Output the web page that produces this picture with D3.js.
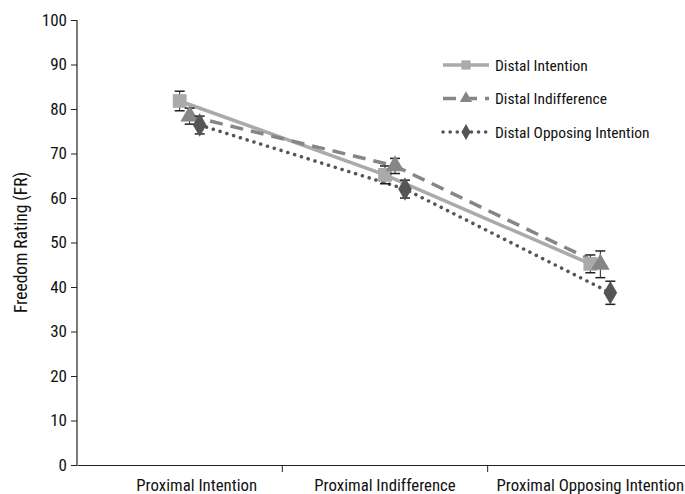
<!DOCTYPE html>
<html>
<head>
<meta charset="utf-8">
<script src="https://cdn.jsdelivr.net/npm/d3@7"></script>
<style>
  body { margin: 0; background: #fff; }
  text { font-family: "Liberation Sans Narrow", "Arial Narrow", "Roboto Condensed", "Liberation Sans", sans-serif; fill: #111; }
</style>
</head>
<body>
<div id="wrapper"></div>
<script>
// data
const categories = ["Proximal Intention", "Proximal Indifference", "Proximal Opposing Intention"]
const seriesNames = ["Distal Intention", "Distal Indifference", "Distal Opposing Intention"]
const intentionMeans = [81.8, 65.2, 45.2]
const intentionErr = [2.2, 2.0, 2.0]
const indifferenceMeans = [78.4, 67.2, 45.1]
const indifferenceErr = [1.8, 1.7, 3.0]
const opposingMeans = [76.4, 62.0, 38.7]
const opposingErr = [2.0, 2.0, 2.6]
const yTicks = [0, 10, 20, 30, 40, 50, 60, 70, 80, 90, 100]

function drawChart() {
  const dimensions = {
    width: 685,
    height: 494,
    margin: { top: 20, right: -8, bottom: 29, left: 77 },
  }
  dimensions.boundedWidth = dimensions.width - dimensions.margin.left - dimensions.margin.right
  dimensions.boundedHeight = dimensions.height - dimensions.margin.top - dimensions.margin.bottom

  const wrapper = d3.select("#wrapper")
    .append("svg")
    .attr("width", dimensions.width)
    .attr("height", dimensions.height)

  const bounds = wrapper.append("g")
    .attr("transform", `translate(${dimensions.margin.left}, ${dimensions.margin.top})`)

  const series = [
    { name: seriesNames[0], means: intentionMeans, err: intentionErr, color: "#aaaaaa", dash: null, cap: "butt", shape: d3.symbolSquare, size: 190, offset: 0 },
    { name: seriesNames[1], means: indifferenceMeans, err: indifferenceErr, color: "#868686", dash: "13,8", cap: "butt", shape: d3.symbolTriangle, size: 150, offset: 10 },
    { name: seriesNames[2], means: opposingMeans, err: opposingErr, color: "#555555", dash: "0.1,7", cap: "round", shape: d3.symbolDiamond, size: 160, offset: 20 },
  ]

  const xScale = d3.scaleBand()
    .domain(categories)
    .range([0, dimensions.boundedWidth])

  const yScale = d3.scaleLinear()
    .domain([0, 100])
    .range([dimensions.boundedHeight, 0])

  const xOf = (s, i) => xScale(categories[i]) + xScale.bandwidth() / 2 + s.offset

  // axes
  const yAxis = bounds.append("g")
    .call(d3.axisLeft(yScale).tickValues(yTicks).tickSize(6).tickPadding(4))
  yAxis.select(".domain").attr("stroke", "#222").attr("stroke-width", 1.2).attr("d", `M0,0V${dimensions.boundedHeight}`)
  yAxis.selectAll(".tick line").attr("stroke", "#222")
  yAxis.selectAll(".tick text").style("font-size", "17px")

  const xAxis = bounds.append("g")
    .attr("transform", `translate(0, ${dimensions.boundedHeight})`)
    .call(d3.axisBottom(xScale).tickSize(0).tickPadding(14))
  xAxis.select(".domain").attr("stroke", "#222").attr("stroke-width", 1.2)
  xAxis.selectAll(".tick text").style("font-size", "16.8px")
  xAxis.selectAll(".tick").filter((d, i) => i === 0).select("text").attr("dx", 17)

  bounds.append("g").selectAll("line")
    .data(categories.slice(1))
    .join("line")
    .attr("x1", d => xScale(d))
    .attr("x2", d => xScale(d))
    .attr("y1", dimensions.boundedHeight)
    .attr("y2", dimensions.boundedHeight + 7)
    .attr("stroke", "#222")

  bounds.append("text")
    .attr("transform", `translate(${-dimensions.margin.left + 27}, ${dimensions.boundedHeight / 2}) rotate(-90)`)
    .attr("text-anchor", "middle")
    .style("font-size", "17.5px")
    .text("Freedom Rating (FR)")

  // lines
  const lineGenerator = d3.line()
    .x(d => d.x)
    .y(d => yScale(d.y))

  series.forEach(s => {
    const pts = s.means.map((m, i) => ({ x: xOf(s, i), y: m }))
    bounds.append("path")
      .attr("d", lineGenerator(pts))
      .attr("fill", "none")
      .attr("stroke", s.color)
      .attr("stroke-width", 3.5)
      .attr("stroke-dasharray", s.dash)
      .attr("stroke-linecap", s.cap)
  })

  // markers and error bars
  series.forEach(s => {
    const g = bounds.append("g")
    s.means.forEach((m, i) => {
      const x = xOf(s, i)
      const yTop = yScale(m + s.err[i])
      const yBot = yScale(m - s.err[i])
      g.append("line").attr("x1", x).attr("x2", x).attr("y1", yTop).attr("y2", yBot).attr("stroke", "#222").attr("stroke-width", 1)
      ;[yTop, yBot].forEach(y => {
        g.append("line").attr("x1", x - 5).attr("x2", x + 5).attr("y1", y).attr("y2", y).attr("stroke", "#222").attr("stroke-width", 1.5)
      })
      g.append("path")
        .attr("d", d3.symbol().type(s.shape).size(s.size)())
        .attr("transform", `translate(${x}, ${yScale(m)})`)
        .attr("fill", s.color)
    })
  })

  // legend
  const legend = wrapper.append("g")
    .attr("transform", "translate(443, 65)")
  series.forEach((s, i) => {
    const row = legend.append("g").attr("transform", `translate(0, ${i * 33.5})`)
    row.append("line")
      .attr("x1", 0).attr("x2", 46)
      .attr("stroke", s.color)
      .attr("stroke-width", 3.5)
      .attr("stroke-dasharray", s.dash)
      .attr("stroke-linecap", s.cap)
    row.append("path")
      .attr("d", d3.symbol().type(s.shape).size(s.size * 0.45)())
      .attr("transform", "translate(23, 0)")
      .attr("fill", s.color)
    row.append("text")
      .attr("x", 52)
      .attr("y", 5.5)
      .style("font-size", "15.5px")
      .text(s.name)
  })
}
drawChart()
</script>
</body>
</html>
